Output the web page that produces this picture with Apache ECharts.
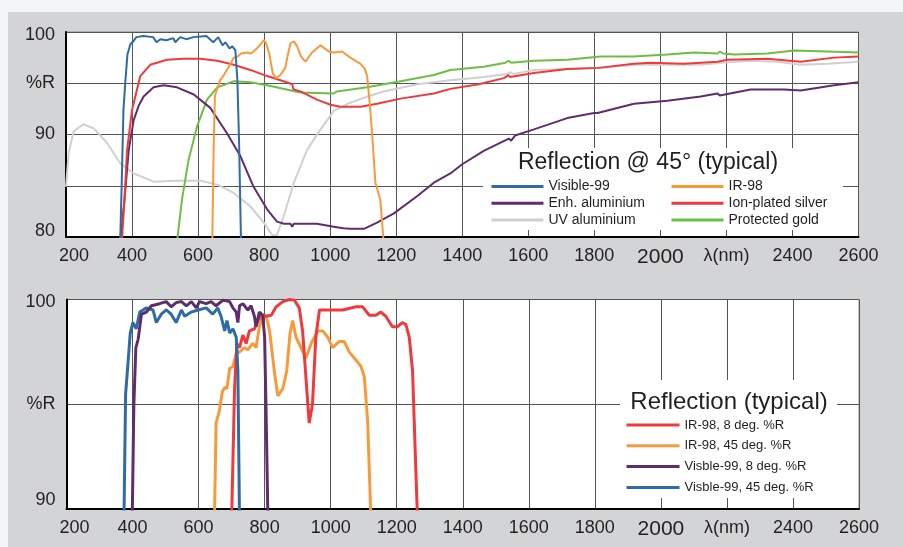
<!DOCTYPE html>
<html><head><meta charset="utf-8">
<script src="https://cdn.jsdelivr.net/npm/echarts@6/dist/echarts.min.js"></script>
<style>
html,body{margin:0;padding:0;background:#f4f5f7;}
#panel{position:absolute;left:8px;top:12px;width:895px;height:535px;background:#d3d4d6;}
#chart{position:absolute;left:0;top:0;width:903px;height:547px;}
</style></head>
<body><div id="panel"></div><div id="chart"></div>
<script>
// ---- data: [wavelength nm, %R] ----
const xTicks = [200,400,600,800,1000,1200,1400,1600,1800,2000,2200,2400,2600];
const topYTicks = [80,85,90,95,100];
const botYTicks = [90,95,100];

// Top chart: Reflection @ 45° (typical)
const visible99 = [[364,79.5],[369,85.6],[374,92.4],[380,95.3],[386,97.8],[395,98.8],[404,99.1],[413,99.5],[434,99.6],[464,99.5],[474,99.0],[486,99.3],[504,99.2],[525,99.4],[531,99.0],[546,99.5],[564,99.3],[586,99.5],[625,99.6],[646,99.0],[661,99.5],[674,98.7],[683,99.0],[695,98.4],[704,98.6],[713,98.2],[719,95.3],[724,89.5],[730,79.5]];
const ir98 = [[643,79.5],[647,88.5],[651,93.8],[667,95.3],[678,95.8],[693,96.6],[708,97.5],[720,97.6],[730,97.9],[748,98.0],[760,97.9],[768,98.1],[784,98.6],[799,99.2],[806,98.9],[816,97.8],[826,96.0],[836,95.5],[849,95.8],[864,96.5],[872,97.8],[880,98.9],[890,99.1],[900,98.6],[912,97.6],[925,97.1],[945,98.0],[971,98.7],[996,98.1],[1011,98.0],[1036,98.1],[1061,97.5],[1092,96.9],[1105,96.4],[1112,95.7],[1120,93.0],[1127,90.1],[1137,85.3],[1152,83.6],[1162,79.5]];
const enhAluminium = [[364,79.5],[377,83.6],[390,88.5],[405,91.4],[420,92.8],[435,93.7],[465,94.6],[496,94.8],[536,94.6],[587,93.9],[637,92.6],[688,90.1],[728,87.9],[768,84.9],[809,82.7],[839,81.5],[860,81.3],[880,81.3],[885,81.0],[890,81.3],[960,81.3],[1011,81.0],[1040,80.85],[1061,80.8],[1102,80.8],[1142,81.4],[1193,82.3],[1264,84.0],[1314,85.3],[1364,86.2],[1400,87.1],[1465,88.4],[1541,89.6],[1548,89.4],[1560,89.9],[1617,90.5],[1718,91.6],[1799,92.1],[1810,92.1],[1920,93.0],[2021,93.3],[2122,93.7],[2173,94.0],[2180,93.8],[2273,94.4],[2374,94.4],[2425,94.3],[2526,94.8],[2600,95.1]];
const ionSilver = [[369,79.5],[377,83.6],[385,88.5],[400,92.4],[425,95.7],[455,96.8],[506,97.3],[556,97.4],[607,97.4],[658,97.2],[708,96.8],[758,96.3],[809,95.7],[859,95.2],[885,94.9],[889,94.4],[910,94.2],[960,93.4],[1001,92.9],[1031,92.7],[1092,92.7],[1142,93.0],[1213,93.5],[1314,94.0],[1364,94.45],[1450,94.9],[1526,95.5],[1540,95.8],[1545,95.6],[1617,96.0],[1718,96.4],[1813,96.5],[1920,96.9],[1970,97.0],[2071,96.9],[2173,97.1],[2203,97.3],[2324,97.4],[2425,97.1],[2526,97.5],[2600,97.6]];
const uvAluminium = [[200,84.9],[208,88.2],[223,90.3],[253,91.0],[284,90.6],[324,89.2],[364,87.2],[405,86.2],[465,85.4],[536,85.5],[607,85.5],[658,85.1],[708,84.3],[758,83.0],[799,81.4],[824,80.2],[839,80.2],[859,82.0],[890,85.3],[930,88.5],[971,90.5],[1011,92.3],[1061,93.1],[1112,93.7],[1162,94.2],[1264,94.9],[1364,95.3],[1465,95.6],[1536,95.9],[1545,96.1],[1555,95.9],[1617,96.3],[1718,96.4],[1819,96.5],[1920,96.8],[2021,96.8],[2122,96.8],[2183,97.0],[2273,97.2],[2354,97.1],[2425,96.8],[2506,96.9],[2600,97.1]];
const protGold = [[536,79.5],[551,83.6],[571,87.5],[597,90.8],[627,93.4],[658,94.6],[708,95.2],[758,95.1],[809,94.8],[910,94.1],[1011,94.0],[1020,94.2],[1112,94.6],[1213,95.2],[1314,95.8],[1364,96.3],[1465,96.6],[1531,97.0],[1540,97.2],[1548,97.0],[1617,97.2],[1718,97.3],[1819,97.6],[1920,97.6],[2021,97.8],[2102,98.0],[2173,97.9],[2180,98.1],[2190,97.9],[2223,97.8],[2324,97.9],[2405,98.2],[2506,98.1],[2600,98.0]];

// Bottom chart: Reflection (typical)
const ir98_8 = [[700,89.5],[709,95.8],[716,97.9],[724,97.7],[734,98.3],[744,97.9],[754,98.5],[769,98.6],[789,99.3],[804,99.2],[820,99.25],[835,99.65],[855,99.9],[875,100],[890,99.97],[905,99.6],[915,98.5],[925,96.3],[935,94.1],[945,95.0],[955,98.2],[966,99.5],[996,99.5],[1036,99.5],[1077,99.65],[1097,99.65],[1117,99.25],[1137,99.25],[1152,99.4],[1167,99.2],[1187,98.7],[1202,98.7],[1217,98.9],[1228,98.8],[1238,98.2],[1248,96.6],[1253,94.2],[1263,89.5]];
const ir98_45 = [[648,89.5],[653,94.1],[663,94.7],[672,95.6],[679,95.8],[686,95.75],[694,96.7],[704,96.8],[714,97.4],[724,97.5],[739,97.7],[749,97.6],[764,97.9],[774,97.7],[784,98.7],[794,99.2],[804,99.25],[815,98.5],[830,96.5],[840,95.4],[855,95.75],[867,96.6],[877,98.4],[885,99.0],[895,98.2],[910,97.7],[925,97.2],[941,97.9],[961,98.5],[976,98.5],[991,98.2],[1006,97.7],[1026,98.0],[1041,98.0],[1056,97.5],[1077,97.1],[1092,96.8],[1102,96.3],[1112,94.2],[1122,89.5]];
const vis99_8 = [[399,89.5],[404,95.0],[410,97.7],[417,98.1],[427,99.3],[442,99.4],[457,99.7],[482,99.8],[502,99.9],[517,99.65],[532,99.85],[548,99.9],[563,99.7],[578,99.9],[593,99.6],[603,99.9],[623,99.8],[638,99.9],[653,99.7],[674,99.97],[694,99.9],[704,99.6],[714,99.4],[719,98.9],[724,99.7],[734,99.8],[749,99.5],[759,99.7],[769,99.2],[774,98.7],[784,99.4],[794,99.25],[800,98.2],[804,95.0],[810,89.5]];
const vis99_45 = [[374,89.5],[379,95.5],[386,96.9],[393,98.4],[401,98.9],[411,98.6],[422,99.4],[442,99.6],[462,99.5],[472,98.9],[487,99.3],[502,99.5],[517,99.3],[532,98.9],[548,99.5],[558,99.2],[578,99.4],[598,99.5],[623,99.6],[643,99.3],[658,99.6],[668,99.2],[679,98.5],[686,99.0],[694,98.4],[704,98.6],[714,98.2],[719,96.6],[724,89.5]];

const FONT = '"Liberation Sans", Arial, sans-serif';
const TXT = '#231f20';
const C = {blue:'#2f6ba4', orange:'#f89a3a', purple:'#5f2d6e', red:'#ee3a3b', gray:'#d0d0d0', green:'#6cbf45'};

function xAxis(gridIndex){
  return {type:'value', gridIndex, min:200, max:2600, interval:200,
    axisLine:{show:true, onZero:false, lineStyle:{color:'#000', width:2}},
    axisTick:{show:false},
    splitLine:{show:true, lineStyle:{color:'#555', width:1}},
    axisLabel:{color:TXT, fontFamily:FONT, fontSize:18, margin:10,
      formatter:v => v===2000 ? '{big|2000}' : v===2200 ? 'λ(nm)' : v===200 ? '{first|200}' : String(v),
      rich:{big:{fontSize:21, fontFamily:FONT, color:TXT}, first:{fontSize:18, fontFamily:FONT, color:TXT, padding:[0,0,0,16]}}}
  };
}
function yAxis(gridIndex, min, max, minPad){
  return {type:'value', gridIndex, min, max, interval:5,
    axisLine:{show:true, onZero:false, lineStyle:{color:'#000', width:2}},
    axisTick:{show:false},
    splitLine:{show:true, lineStyle:{color:'#555', width:1}},
    axisLabel:{color:TXT, fontFamily:FONT, fontSize:18, margin:11,
      formatter:v => v===95 ? '%R' : v===85 ? '' : v===min ? '{lo|'+v+'}' : v===max ? '{hi|'+v+'}' : String(v),
      rich:{lo:{fontSize:18, fontFamily:FONT, color:TXT, padding:[0,0,minPad,0]},
            hi:{fontSize:18, fontFamily:FONT, color:TXT, padding:[6,0,0,0]}}}
  };
}
function line(name, data, color, xi, width){
  return {name, type:'line', xAxisIndex:xi, yAxisIndex:xi, data, showSymbol:false,
    lineStyle:{color, width}, itemStyle:{color}, clip:true, animation:false, z:2};
}

const chart = echarts.init(document.getElementById('chart'));
const legendText = {color:TXT, fontFamily:FONT, fontSize:14, lineHeight:16};
chart.setOption({
  animation:false,
  grid:[
    {left:66, top:32, width:792.5, height:205, show:true, backgroundColor:'#fff', borderColor:'#888', borderWidth:1},
    {left:66.5, top:299.5, width:792.5, height:209.5, show:true, backgroundColor:'#fff', borderColor:'#888', borderWidth:1}
  ],
  xAxis:[xAxis(0), xAxis(1)],
  yAxis:[yAxis(0,80,100,12), yAxis(1,90,100,18)],
  legend:[
    {data:['Visible-99','Enh. aluminium','UV aluminium'], orient:'vertical', left:491.5, top:178.5, padding:0,
     itemWidth:52, itemHeight:3, itemGap:0.7, icon:'rect', textStyle:legendText, selectedMode:false, z:6},
    {data:['IR-98','Ion-plated silver','Protected gold'], orient:'vertical', left:671.5, top:178.5, padding:0,
     itemWidth:52, itemHeight:3, itemGap:0.7, icon:'rect', textStyle:legendText, selectedMode:false, z:6},
    {data:['IR-98, 8 deg. %R','IR-98, 45 deg. %R','Visble-99, 8 deg. %R','Visble-99, 45 deg. %R'], orient:'vertical', left:626.5, top:417, padding:0,
     itemWidth:53, itemHeight:3, itemGap:4.8, icon:'rect', textStyle:{color:TXT, fontFamily:FONT, fontSize:13, lineHeight:16}, selectedMode:false, z:6}
  ],
  graphic:[
    {type:'rect', shape:{x:483, y:148, width:360, height:82}, style:{fill:'#fff'}, z:1, silent:true},
    {type:'rect', shape:{x:620, y:380, width:217, height:118}, style:{fill:'#fff'}, z:1, silent:true},
    {type:'text', x:648, y:163, z:6, silent:true,
     style:{text:'Reflection @ 45° (typical)', fill:TXT, font:'23px '+FONT, align:'center', verticalAlign:'middle', textAlign:'center', textVerticalAlign:'middle'}},
    {type:'text', x:729, y:402, z:6, silent:true,
     style:{text:'Reflection (typical)', fill:TXT, font:'24px '+FONT, align:'center', verticalAlign:'middle', textAlign:'center', textVerticalAlign:'middle'}}
  ],
  series:[
    line('UV aluminium', uvAluminium, C.gray, 0, 2),
    line('Protected gold', protGold, C.green, 0, 2),
    line('Enh. aluminium', enhAluminium, C.purple, 0, 2),
    line('Ion-plated silver', ionSilver, C.red, 0, 2),
    line('IR-98', ir98, C.orange, 0, 2),
    line('Visible-99', visible99, C.blue, 0, 2),
    line('IR-98, 45 deg. %R', ir98_45, C.orange, 1, 3),
    line('IR-98, 8 deg. %R', ir98_8, C.red, 1, 3),
    line('Visble-99, 45 deg. %R', vis99_45, C.blue, 1, 3),
    line('Visble-99, 8 deg. %R', vis99_8, C.purple, 1, 3)
  ]
});
</script></body></html>
